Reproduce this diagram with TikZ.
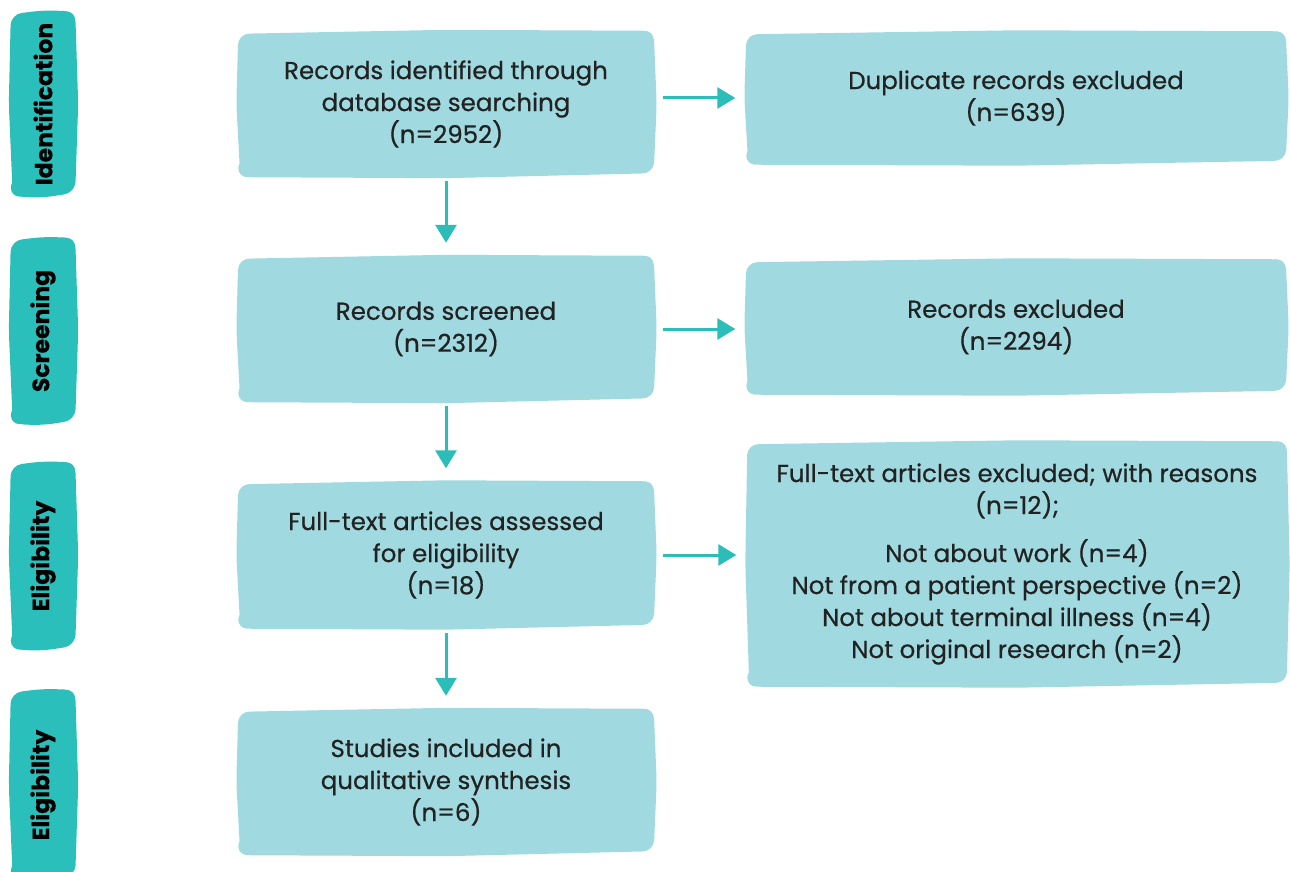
\documentclass[tikz,border=0pt]{standalone}
\usepackage{fontspec}
\setmainfont{Poppins}[FakeBold=0.6]
\newfontfamily\barfont{Poppins}[FakeBold=0.4]
\usetikzlibrary{arrows.meta,calc,backgrounds}
\definecolor{boxfill}{HTML}{A0DAE0}
\definecolor{barfill}{HTML}{2BBFBB}
\definecolor{arrcol}{HTML}{2BBDB8}
\definecolor{txt}{HTML}{222222}
\newcommand{\brush}[2]{%
  \fill[#2, rounded corners=11pt]
    ($(#1.north west)+(1,3)$) -- ($(#1.north)+(0,-1)$) -- ($(#1.north east)+(-1,0)$)
    -- ($(#1.east)+(2,0)$) -- ($(#1.south east)+(-1,-4)$) -- ($(#1.south)+(0,1)$)
    -- ($(#1.south west)+(3,0)$) -- ($(#1.west)+(-1,0)$) -- cycle;
  \fill[#2] ($(#1.south west)+(10,-9)$) circle (9pt);
  \fill[#2] ($(#1.north east)+(-10,9)$) circle (9pt);
}
\tikzset{
  box/.style={inner sep=0pt, text=txt, align=center, font=\fontsize{24.5}{32}\selectfont},
  bar/.style={inner sep=0pt, text=black, rotate=90, font=\fontsize{23.5}{26}\selectfont\barfont\bfseries},
  arr/.style={draw=arrcol, line width=3pt, -{Triangle[length=18pt,width=21pt]}},
}
\begin{document}
\begin{tikzpicture}[x=1pt,y=-1pt]
\useasboundingbox (0,0) rectangle (1290,872);
% side bars
\node[minimum width=66pt, minimum height=185pt, inner sep=0pt] (s1) at (43,104) {};
\node[minimum width=66pt, minimum height=186pt, inner sep=0pt] (s2) at (43,331) {};
\node[minimum width=66pt, minimum height=187pt, inner sep=0pt] (s3) at (43,556) {};
\node[minimum width=66pt, minimum height=190pt, inner sep=0pt] (s4) at (43,785) {};
\brush{s1}{barfill}
\brush{s2}{barfill}
\brush{s3}{barfill}
\brush{s4}{barfill}
\node[bar] (t1) at (s1.center) {Identification};
\node[bar] (t2) at (s2.center) {Screening};
\node[bar] (t3) at (s3.center) {Eligibility};
\node[bar] (t4) at (s4.center) {Eligibility};
% boxes
\node[box, minimum width=417pt, minimum height=146pt] (b1) at (446,104) {Records identified through\\database searching\\(n=2952)};
\node[box, minimum width=541pt, minimum height=133pt] (b2) at (1016,98) {Duplicate records excluded\\(n=639)};
\node[box, minimum width=417pt, minimum height=146pt] (b3) at (446,329) {Records screened\\(n=2312)};
\node[box, minimum width=541pt, minimum height=135pt] (b4) at (1016,327) {Records excluded\\(n=2294)};
\node[box, minimum width=417pt, minimum height=147pt] (b5) at (446,555) {Full-text articles assessed\\for eligibility\\(n=18)};
\node[box, minimum width=541pt, minimum height=245pt] (b6) at (1017,564) {Full-text articles excluded; with reasons\\(n=12);\\[16pt]Not about work (n=4)\\Not from a patient perspective (n=2)\\Not about terminal illness (n=4)\\Not original research (n=2)};
\node[box, minimum width=417pt, minimum height=146pt] (b7) at (446,782) {Studies included in\\qualitative synthesis\\(n=6)};
\begin{scope}[on background layer]
\brush{b1}{boxfill}
\brush{b2}{boxfill}
\brush{b3}{boxfill}
\brush{b4}{boxfill}
\brush{b5}{boxfill}
\brush{b6}{boxfill}
\brush{b7}{boxfill}
\end{scope}
% arrows
\draw[arr] ([xshift=8pt]b1.east |- b2.west) -- ([xshift=-10pt]b2.west);
\draw[arr] ([xshift=8pt]b3.east) -- ([xshift=-10pt]b3.east -| b4.west);
\draw[arr] ([xshift=8pt]b5.east) -- ([xshift=-10pt]b5.east -| b6.west);
\draw[arr] ([yshift=-4pt]b1.south) -- ([yshift=13pt]b3.north);
\draw[arr] ([yshift=-4pt]b3.south) -- ([yshift=13pt]b5.north);
\draw[arr] ([yshift=-4pt]b5.south) -- ([yshift=13pt]b7.north);
\end{tikzpicture}
\end{document}
